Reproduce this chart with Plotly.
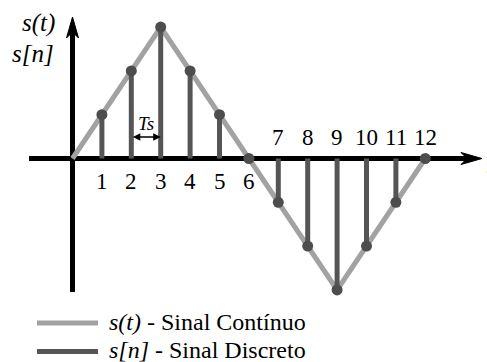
import plotly.graph_objects as go

# ---- data ----
n_samples = [1, 2, 3, 4, 5, 6, 7, 8, 9, 10, 11, 12]
s_discrete = [1, 2, 3, 2, 1, 0, -1, -2, -3, -2, -1, 0]
t_cont = [0, 3, 6, 9, 12]
s_cont = [0, 3, 0, -3, 0]
tick_labels = ["1", "2", "3", "4", "5", "6", "7", "8", "9", "10", "11", "12"]

LIGHT = "#a2a2a2"
DARK = "#555555"
FONT = "Liberation Serif, Times New Roman, serif"

W, H = 487, 362
x0px, dxpx = 72.5, 29.4
y0px, dypx = 158.5, 43.8
xr = [-x0px / dxpx, (W - x0px) / dxpx]
yr = [-(H - y0px) / dypx, y0px / dypx]

def px_x(p):
    return (p - x0px) / dxpx

def px_y(p):
    return (y0px - p) / dypx

fig = go.Figure()

# continuous signal
fig.add_trace(go.Scatter(x=t_cont, y=s_cont, mode="lines",
                         line=dict(color=LIGHT, width=5), name="s(t) - Sinal Contínuo",
                         hoverinfo="skip"))

# stems
sx, sy = [], []
for n, v in zip(n_samples, s_discrete):
    sx += [n, n, None]
    sy += [0, v, None]
fig.add_trace(go.Scatter(x=sx, y=sy, mode="lines", line=dict(color=DARK, width=5),
                         name="s[n] - Sinal Discreto", hoverinfo="skip"))
fig.add_trace(go.Scatter(x=n_samples, y=s_discrete, mode="markers",
                         marker=dict(color="#4d4d4d", size=11), hoverinfo="skip"))

shapes = []
# horizontal axis
shapes.append(dict(type="line", xref="x", yref="y", x0=px_x(29), x1=px_x(468), y0=0, y1=0,
                   line=dict(color="black", width=5), layer="below"))
shapes.append(dict(type="path", xref="x", yref="y", xsizemode="pixel", ysizemode="pixel",
                   xanchor=px_x(482), yanchor=0,
                   path="M0,0 L-21,6 L-15,0 L-21,-6 Z", fillcolor="black",
                   line=dict(color="black", width=1), layer="below"))
# vertical axis
shapes.append(dict(type="line", xref="x", yref="y", x0=0, x1=0, y0=px_y(292), y1=px_y(32),
                   line=dict(color="black", width=5), layer="below"))
shapes.append(dict(type="path", xref="x", yref="y", xsizemode="pixel", ysizemode="pixel",
                   xanchor=0, yanchor=px_y(17),
                   path="M0,0 L-6,-21 L0,-15 L6,-21 Z", fillcolor="black",
                   line=dict(color="black", width=1), layer="below"))
# legend samples
for yy, col in [(323, LIGHT), (351.5, DARK)]:
    shapes.append(dict(type="line", xref="paper", yref="paper",
                       x0=37 / W, x1=98 / W, y0=1 - yy / H, y1=1 - yy / H,
                       line=dict(color=col, width=5)))

annotations = []
for n, lab in zip(n_samples, tick_labels):
    yy = px_y(181.5) if n <= 6 else px_y(137)
    annotations.append(dict(x=n, y=yy, xref="x", yref="y", text=lab, showarrow=False,
                            font=dict(family=FONT, size=23, color="black"),
                            xanchor="center", yanchor="middle"))
# Ts marker
annotations.append(dict(x=3, y=px_y(137), ax=2, ay=px_y(137), xref="x", yref="y",
                        axref="x", ayref="y", text="", showarrow=True, arrowhead=2,
                        startarrowhead=2, arrowside="end+start", arrowwidth=1.5,
                        arrowsize=1, startarrowsize=1, arrowcolor="black"))
annotations.append(dict(x=2.5, y=px_y(123), xref="x", yref="y", text="<i>Ts</i>",
                        showarrow=False, font=dict(family=FONT, size=19, color="black")))
# axis titles
annotations.append(dict(x=57 / W, y=1 - 23 / H, xref="paper", yref="paper", text="<i>s(t)</i>",
                        showarrow=False, xanchor="right", yanchor="middle",
                        font=dict(family=FONT, size=25, color="black")))
annotations.append(dict(x=56 / W, y=1 - 54 / H, xref="paper", yref="paper", text="<i>s[n]</i>",
                        showarrow=False, xanchor="right", yanchor="middle",
                        font=dict(family=FONT, size=25, color="black")))
annotations.append(dict(x=484 / W, y=1 - 166 / H, xref="paper", yref="paper", text="<i>t</i>",
                        showarrow=False, xanchor="left", yanchor="middle",
                        font=dict(family=FONT, size=22, color="black")))
# legend texts
annotations.append(dict(x=107 / W, y=1 - 322 / H, xref="paper", yref="paper",
                        text="<i>s(t)</i> - Sinal Contínuo", showarrow=False,
                        xanchor="left", yanchor="middle",
                        font=dict(family=FONT, size=24, color="black")))
annotations.append(dict(x=107 / W, y=1 - 350 / H, xref="paper", yref="paper",
                        text="<i>s[n]</i> - Sinal Discreto", showarrow=False,
                        xanchor="left", yanchor="middle",
                        font=dict(family=FONT, size=24, color="black")))

fig.update_layout(
    width=W, height=H, margin=dict(l=0, r=0, t=0, b=0),
    paper_bgcolor="white", plot_bgcolor="white", showlegend=False,
    xaxis=dict(range=xr, visible=False, fixedrange=True),
    yaxis=dict(range=yr, visible=False, fixedrange=True),
    shapes=shapes, annotations=annotations,
)
fig.write_html("out.html", config={"displayModeBar": False},
               post_script="document.body.style.margin='0';document.body.style.overflow='hidden';")
